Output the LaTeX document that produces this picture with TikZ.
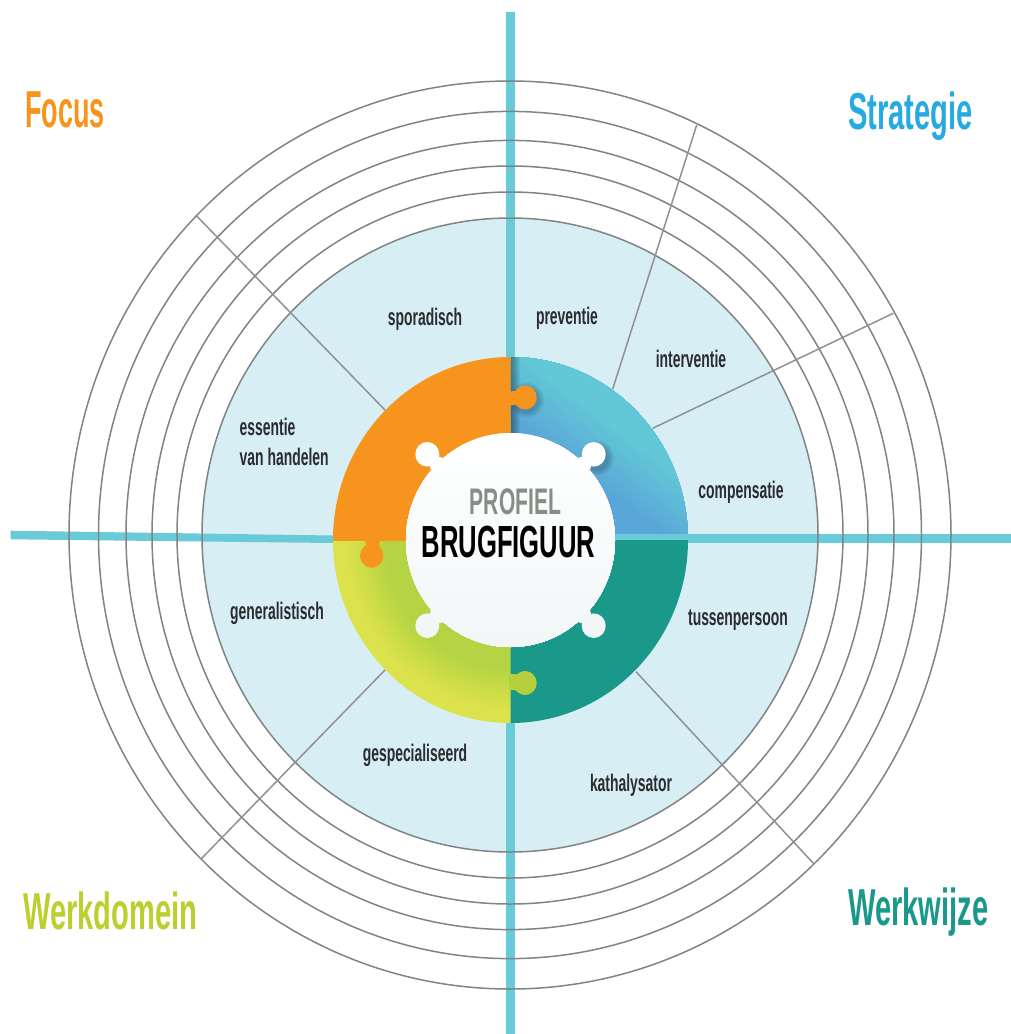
\documentclass[tikz,border=0pt]{standalone}
\usepackage{fontspec}
\setmainfont{Liberation Sans}
\newfontfamily\headfont[FakeStretch=0.56]{Liberation Sans Bold}
\newfontfamily\focusfont[FakeStretch=0.52]{Liberation Sans Bold}
\newfontfamily\hubfont[FakeStretch=0.57]{Liberation Sans Bold}
\newfontfamily\labelfont[FakeStretch=0.58]{Liberation Sans Bold}
\definecolor{barcol}{HTML}{68CBD7}
\definecolor{discol}{HTML}{D7EEF5}
\definecolor{ringcol}{HTML}{808484}
\definecolor{spokecol}{HTML}{8F9193}
\definecolor{orangecol}{HTML}{F7941E}
\definecolor{tealcol}{HTML}{1A998A}
\definecolor{blueA}{HTML}{5AA6D8}
\definecolor{blueB}{HTML}{62C7D6}
\definecolor{stratcol}{HTML}{27AAE1}
\definecolor{greenA}{HTML}{B4D443}
\definecolor{greenB}{HTML}{DCE24B}
\definecolor{greenK}{HTML}{B6CF3C}
\definecolor{domcol}{HTML}{BDCF2E}
\definecolor{txtcol}{HTML}{2B2B30}
\definecolor{profcol}{HTML}{8A8C86}
\definecolor{whiteA}{HTML}{FFFFFF}
\definecolor{whiteB}{HTML}{F2F6F7}
\tikzset{
  ring/.style={draw=ringcol,line width=1.5pt},
  spoke/.style={draw=spokecol,line width=1.5pt},
  smalltxt/.style={font=\labelfont\fontsize{24}{26}\selectfont,text=txtcol,inner sep=0pt},
  headtxt/.style={font=\headfont\fontsize{52}{54}\selectfont,inner sep=0pt,anchor=base west},
}
\newcommand{\hubdisc}{(510.5,540) ellipse (177.5 and 183)}
\newcommand{\wknob}[5]{%
  \fill[#5] (#1,#2) ellipse (12 and 12.3);
  \fill[#5] (#1,#2) -- ++(#3*14.4,#4*3) -- ++(#3*11,#4*22) -- ++(#3*-11,#4*-10) -- (#1+#3*3.4,#2+#4*15) -- cycle;}
\begin{document}
\begin{tikzpicture}[x=1pt,y=-1pt]
\useasboundingbox (0,0) rectangle (1011,1034);
\fill[white] (0,0) rectangle (1011,1034);
% disc
\fill[discol] (510,535) ellipse (308 and 317);
% axes
\fill[barcol] (506.3,11.7) rectangle (515.3,1034);
\fill[barcol] (10.5,530.7) -- (333,535.5) -- (333,543) -- (10.5,539.3) -- cycle;
\fill[barcol] (600,534) rectangle (1011,543);
% rings
\draw[ring] (510,535) ellipse (308 and 317);
\draw[ring] (510,535) ellipse (333 and 343);
\draw[ring] (510,535) ellipse (358 and 369);
\draw[ring] (510,535) ellipse (384 and 394.6);
\draw[ring] (510,535) ellipse (411.5 and 423.6);
\draw[ring] (510,535) ellipse (441 and 454);
% spokes
\coordinate (s1a) at (696.7,125);  \coordinate (s1b) at (612.7,389);
\coordinate (s2a) at (893.3,313.3);\coordinate (s2b) at (652.7,428.3);
\coordinate (s3a) at (814,864);    \coordinate (s3b) at (636,671.7);
\coordinate (s4a) at (196.7,216);  \coordinate (s4b) at (385,410);
\coordinate (s5a) at (201.7,858.3);\coordinate (s5b) at (385,670);
\draw[spoke] (s1a) -- (s1b);
\draw[spoke] (s2a) -- (s2b);
\draw[spoke] (s3a) -- (s3b);
\draw[spoke] (s4a) -- (s4b);
\draw[spoke] (s5a) -- (s5b);
% blue quadrant
\begin{scope}
  \clip (510.5,357) rectangle (688,540);
  \clip \hubdisc;
  \fill[blueA] (510.5,357) rectangle (688,540);
  \begin{scope}[shift={(510.5,540)},x=1pt,y=1pt,rotate=53]
    \foreach \t in {95,97.5,...,150}{
      \pgfmathtruncatemacro{\p}{(\t-95)/55*100}
      \fill[blueB!\p!blueA] (\t,-300) rectangle (330,300);
    }
  \end{scope}
  \foreach \w in {2,4,...,18}{
    \draw[black,opacity=.045,line width=\w pt] (510.5,357) -- (510.5,392) (510.5,405) -- (510.5,440);
  }
  \foreach \w in {2,4,...,12}{
    \fill[black,opacity=.035] (527,400) ellipse [x radius=11+\w/2, y radius=11.5+\w/2];
    \fill[black,opacity=.035] (597,458) ellipse [x radius=11+\w/2, y radius=11.5+\w/2];
  }
\end{scope}
% green quadrant
\begin{scope}
  \clip (510.5,540) rectangle (333,723);
  \foreach \r in {177.5,175,...,122.5}{
    \pgfmathtruncatemacro{\p}{max(0,min(100,(\r-125)/40*100))}
    \fill[greenB!\p!greenA] (510.5,540) ellipse [x radius=\r, y radius=\r*1.031];
  }
\end{scope}
% teal quadrant
\begin{scope}
  \clip (510.5,540) rectangle (688,723);
  \fill[tealcol] \hubdisc;
\end{scope}
% orange quadrant
\begin{scope}
  \clip (510.5,540) rectangle (333,357);
  \fill[orangecol] \hubdisc;
\end{scope}
% right axis across the hub
\begin{scope}
  \clip \hubdisc;
  \fill[barcol] (600,534) rectangle (700,540);
\end{scope}
% puzzle tabs
\fill[orangecol] (525,397.5) ellipse (11.7 and 12);
\fill[orangecol] (509,391.5) -- (516,391) -- (522,397) -- (516,405) -- (509,405) -- cycle;
\fill[orangecol] (371.7,555.7) ellipse (11.7 and 12);
\fill[orangecol] (365,539) -- (380,539) -- (379,546) -- (372,552) -- (366,546) -- cycle;
\fill[greenK] (525,683) ellipse (11.7 and 12);
\fill[greenK] (509,674) -- (516,674) -- (522,683) -- (516,690) -- (509,690) -- cycle;
% centre
\wknob{427.3}{454.3}{1}{1}{whiteA}
\wknob{593.7}{454.3}{-1}{1}{whiteA}
\wknob{427.3}{625.7}{1}{-1}{whiteB}
\wknob{593.7}{625.7}{-1}{-1}{whiteB}
\begin{scope}
  \clip (510.5,540) ellipse (104.5 and 107);
  \fill[whiteA] (400,430) rectangle (620,650);
  \foreach \s in {0,5,...,100}{
    \fill[whiteB!\s!whiteA] (400,433+\s*2.14) rectangle (620,650);
  }
\end{scope}
\node[font=\hubfont\fontsize{37}{39}\selectfont,text=profcol,inner sep=0pt,anchor=base] (prof) at (515.5,514) {PROFIEL};
\node[font=\hubfont\fontsize{45}{47}\selectfont,text=black,inner sep=0pt,anchor=base] (brug) at (508.5,557.3) {BRUGFIGUUR};
% headings
\node[headtxt,font=\focusfont\fontsize{52}{54}\selectfont,text=orangecol] (focus) at (25,127.7) {Focus};
\node[headtxt,text=stratcol] (strat) at (848,129.5) {Strategie};
\node[headtxt,text=domcol] (domein) at (23,929) {Werkdomein};
\node[headtxt,text=tealcol] (wijze) at (848,925) {Werkwijze};
% labels
\node[smalltxt] (l1) at (567,318) {preventie};
\node[smalltxt] (l2) at (425,319) {sporadisch};
\node[smalltxt] (l3) at (691,358.5) {interventie};
\node[smalltxt,anchor=west] (l4) at (239.5,427) {essentie};
\node[smalltxt,anchor=west] (l5) at (239.5,457) {van handelen};
\node[smalltxt] (l6) at (741,492) {compensatie};
\node[smalltxt] (l7) at (738,620) {tussenpersoon};
\node[smalltxt] (l8) at (277,613) {generalistisch};
\node[smalltxt] (l9) at (415,755) {gespecialiseerd};
\node[smalltxt] (l10) at (631,785) {kathalysator};
\end{tikzpicture}
\end{document}
